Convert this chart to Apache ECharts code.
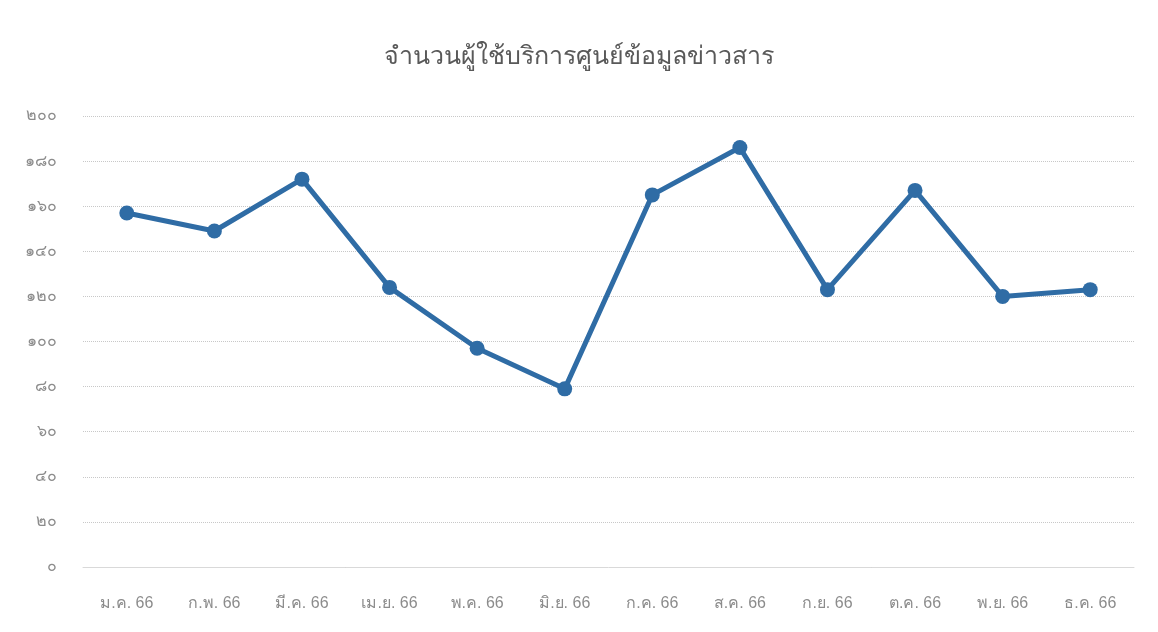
<!DOCTYPE html>
<html>
<head>
<meta charset="utf-8">
<script src="https://cdn.jsdelivr.net/npm/echarts@6/dist/echarts.min.js"></script>
<style>
html,body{margin:0;padding:0;background:#fff;}
#c{width:1158px;height:632px;}
</style>
</head>
<body>
<div id="c"></div>
<script>
const titleText = 'จำนวนผู้ใช้บริการศูนย์ข้อมูลข่าวสาร';
const categories = ['ม.ค. 66','ก.พ. 66','มี.ค. 66','เม.ย. 66','พ.ค. 66','มิ.ย. 66','ก.ค. 66','ส.ค. 66','ก.ย. 66','ต.ค. 66','พ.ย. 66','ธ.ค. 66'];
const users = [157, 149, 172, 124, 97, 79, 165, 186, 123, 167, 120, 123];
const thaiDigits = ['๐','๑','๒','๓','๔','๕','๖','๗','๘','๙'];

function toThai(n){ return String(n).replace(/[0-9]/g, d => thaiDigits[+d]); }

const chart = echarts.init(document.getElementById('c'));
chart.setOption({
  backgroundColor: '#ffffff',
  title: {
    text: titleText,
    left: 'center',
    top: 40,
    textStyle: { color: '#595959', fontSize: 25, fontWeight: 'normal', fontFamily: 'sans-serif' }
  },
  grid: { left: 83, right: 24, top: 116, bottom: 65 },
  xAxis: {
    type: 'category',
    data: categories,
    boundaryGap: true,
    axisLine: { show: true, lineStyle: { color: '#d9d9d9', width: 1 } },
    axisTick: { show: false },
    axisLabel: { color: '#8c8c8c', fontSize: 16, margin: 29, fontFamily: 'sans-serif' }
  },
  yAxis: {
    type: 'value',
    min: 0, max: 200, interval: 20,
    axisLine: { show: false },
    axisTick: { show: false },
    axisLabel: { color: '#8c8c8c', fontSize: 16, margin: 26, formatter: v => toThai(v), fontFamily: 'sans-serif' },
    splitLine: { show: true, lineStyle: { color: '#c8c8c8', type: 'dotted', width: 1 } }
  },
  series: [{
    type: 'line',
    data: users,
    symbol: 'circle',
    symbolSize: 15,
    lineStyle: { color: '#2f6ca5', width: 5 },
    itemStyle: { color: '#2f6ca5' },
    animation: false
  }]
});
</script>
</body>
</html>
